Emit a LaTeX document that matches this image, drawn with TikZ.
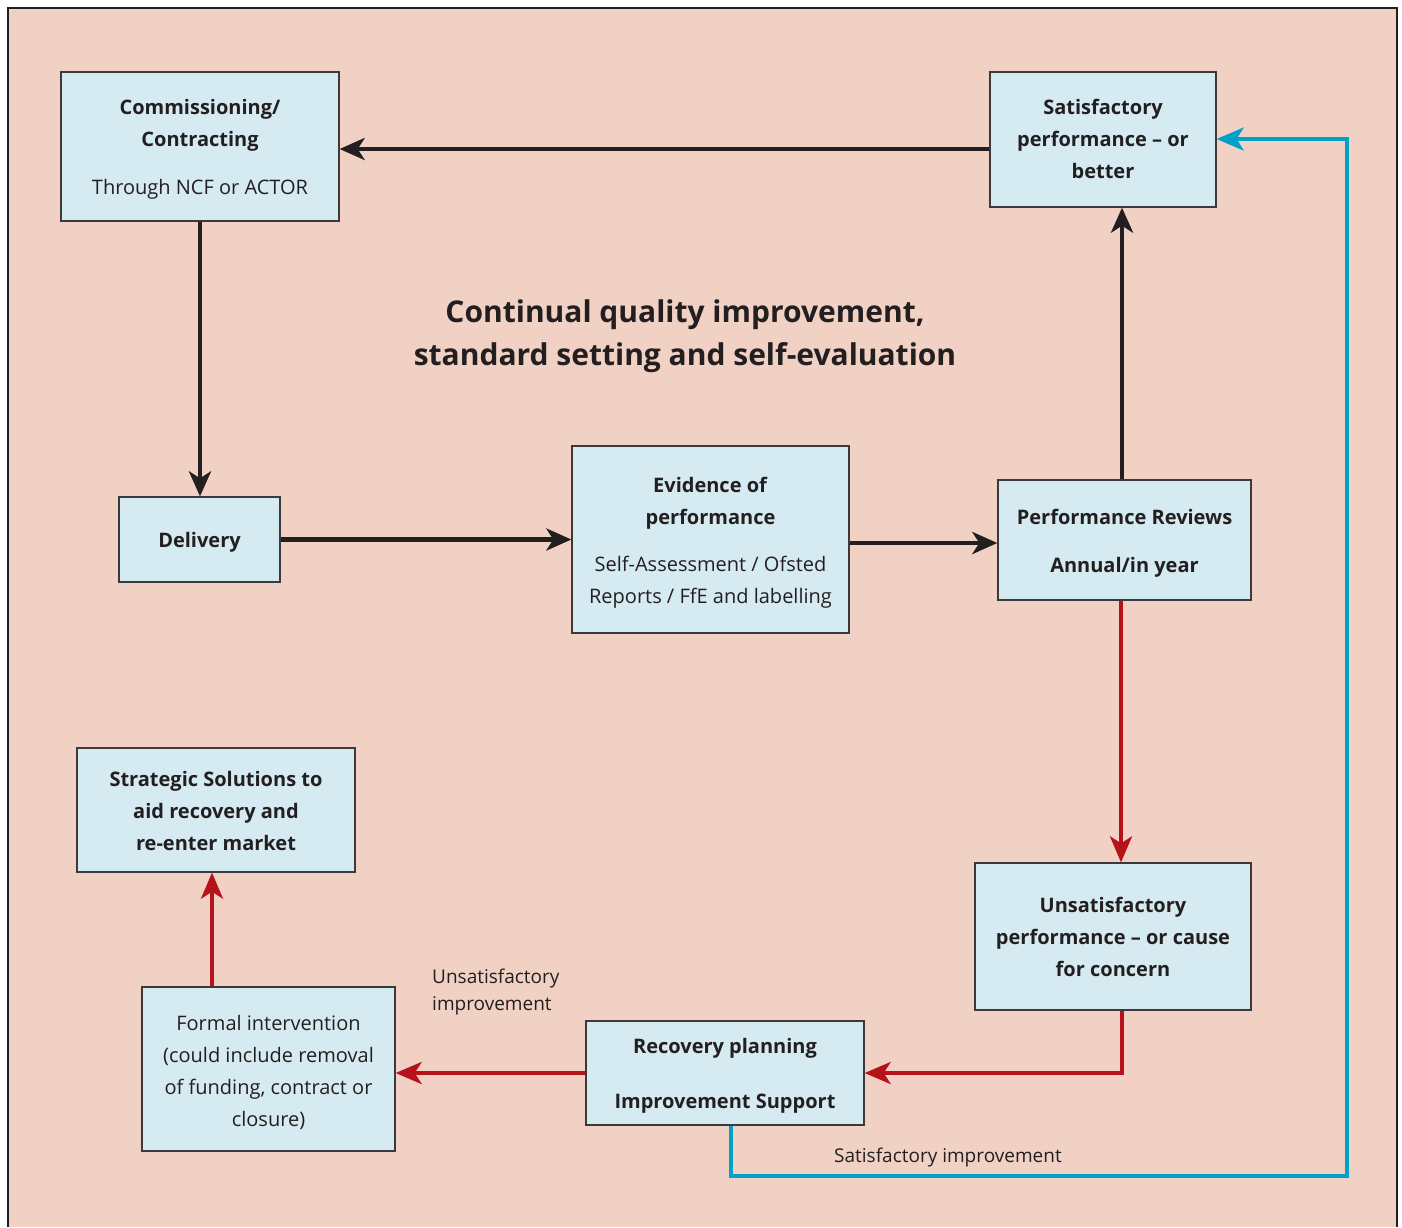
\documentclass[tikz,border=0pt]{standalone}
\usepackage{fontspec}
\setmainfont{Open Sans}
\usetikzlibrary{arrows.meta}
\definecolor{bgpink}{HTML}{F0D1C4}
\definecolor{boxblue}{HTML}{D6EAF2}
\definecolor{boxborder}{HTML}{3A3A3C}
\definecolor{redarrow}{HTML}{B5121B}
\definecolor{bluearrow}{HTML}{00A0C8}
\definecolor{darkline}{HTML}{231F20}
\definecolor{textdark}{HTML}{231F20}
\begin{document}
\begin{tikzpicture}[x=1pt,y=-1pt,
  box/.style={draw=boxborder, line width=1.3pt, fill=boxblue, inner sep=0pt},
  boxtext/.style={align=center, text=textdark, inner sep=0pt, font=\fontsize{20}{32}\selectfont},
  blackarrow/.style={line width=4.8pt, draw=darkline,
    -{Stealth[length=25pt,width=22pt,inset=7pt]}},
  redarr/.style={line width=4.2pt, draw=redarrow,
    -{Stealth[length=26pt,width=22pt,inset=7pt]}},
  bluearr/.style={line width=3.8pt, draw=bluearrow,
    -{Stealth[length=27pt,width=23pt,inset=7pt]}},
  plainlabel/.style={text=textdark, font=\fontsize{19}{27}\selectfont, align=left, inner sep=0pt}
]
\useasboundingbox (0,0) rectangle (1402,1227);
\fill[bgpink] (8,8) rectangle (1397,1227);
\draw[darkline, line width=2.5pt] (8,1227) -- (8,8) -- (1397,8) -- (1397,1227);

% boxes
\node[box, minimum width=278pt, minimum height=149pt] (comm) at (200,146.5) {};
\node[boxtext] (commt) at ([yshift=-3pt]comm.center)
  {\textbf{Commissioning/}\\\textbf{Contracting}\\[16pt]Through NCF or ACTOR};
\node[box, minimum width=226pt, minimum height=135pt] (sat) at (1103,139.5) {};
\node[boxtext] (satt) at ([yshift=1pt]sat.center)
  {\textbf{Satisfactory}\\\textbf{performance – or}\\\textbf{better}};
\node[box, minimum width=161pt, minimum height=85pt] (deliv) at (199.5,539.5) {};
\node[boxtext] (delivt) at ([yshift=-3pt]deliv.center) {\textbf{Delivery}};
\node[box, minimum width=277pt, minimum height=187pt] (evid) at (710.5,539.5) {};
\node[boxtext] (evidt) at ([yshift=-3pt]evid.center)
  {\textbf{Evidence of}\\\textbf{performance}\\[15pt]Self-Assessment / Ofsted\\Reports / FfE and labelling};
\node[box, minimum width=253pt, minimum height=120pt] (perf) at (1124.5,540) {};
\node[boxtext] (perft) at ([yshift=-3pt]perf.center)
  {\textbf{Performance Reviews}\\[16pt]\textbf{Annual/in year}};
\node[box, minimum width=276pt, minimum height=147pt] (unsat) at (1113,936.5) {};
\node[boxtext] (unsatt) at (unsat.center)
  {\textbf{Unsatisfactory}\\\textbf{performance – or cause}\\\textbf{for concern}};
\node[box, minimum width=278pt, minimum height=104pt] (recov) at (725,1073) {};
\node[boxtext] (recovt) at ([yshift=-3pt]recov.center)
  {\textbf{Recovery planning}\\[23pt]\textbf{Improvement Support}};
\node[box, minimum width=253pt, minimum height=164pt] (formal) at (268.5,1069) {};
\node[boxtext] (formalt) at ([yshift=-3pt]formal.center)
  {Formal intervention\\(could include removal\\of funding, contract or\\closure)};
\node[box, minimum width=278pt, minimum height=124pt] (strat) at (216,810) {};
\node[boxtext] (stratt) at ([yshift=-1pt]strat.center)
  {\textbf{Strategic Solutions to}\\\textbf{aid recovery and}\\\textbf{re-enter market}};

% title
\node[text=textdark, align=center, font=\fontsize{30}{43}\selectfont\bfseries] (title) at (685,336.5)
  {Continual quality improvement,\\standard setting and self-evaluation};

% labels
\node[plainlabel, anchor=west] (unsatlbl) at (432,991.5) {Unsatisfactory\\improvement};
\node[plainlabel, anchor=west] (satlbl) at (834,1157) {Satisfactory improvement};

% black arrows
\draw[blackarrow] (sat.west |- 0,149) -- (comm.east |- 0,149);
\draw[blackarrow] (comm.south) -- (comm.south |- deliv.north);
\draw[blackarrow] (deliv.east) -- (evid.west |- deliv.east);
\draw[blackarrow] (evid.east |- 0,543) -- (perf.west |- 0,543);
\draw[blackarrow] (perf.north -| 1122,0) -- (sat.south -| 1122,0);

% red arrows
\draw[redarr] (perf.south -| 1121,0) -- (unsat.north -| 1121,0);
\draw[redarr] (unsat.south -| 1122,0) |- (recov.east);
\draw[redarr] (recov.west) -- (formal.east |- recov.west);
\draw[redarr] (formal.north -| 212,0) -- (strat.south -| 212,0);

% blue arrow
\coordinate (b1) at (731,1176);
\coordinate (b2) at (1347,1176);
\coordinate (b3) at (1347,139);
\draw[bluearr] (recov.south -| b1) -- (b1) -- (b2) -- (b3) -- (sat.east |- b3);
\end{tikzpicture}
\end{document}
